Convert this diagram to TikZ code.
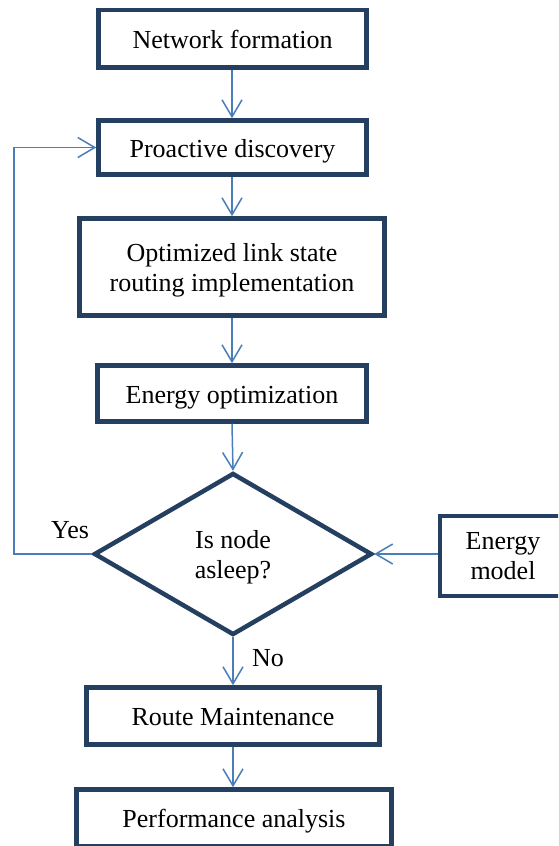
\documentclass[tikz,border=0pt]{standalone}
\usepackage{fontspec}
\setmainfont{Liberation Serif}
\usetikzlibrary{arrows.meta,shapes.geometric}
\definecolor{navy}{HTML}{243F60}
\definecolor{arrblue}{HTML}{4A7EBB}
\begin{document}
\begin{tikzpicture}[x=1pt,y=-1pt,
  box/.style={draw=navy,line width=4.5pt,fill=white,rectangle,inner sep=0pt,align=center,
    font=\fontsize{26}{30}\selectfont,text depth=0pt},
  onebox/.style={box,text height=19pt},
  dia/.style={draw=navy,line width=4.5pt,fill=white,diamond,inner sep=0pt,align=center,
    font=\fontsize{26}{30}\selectfont,text depth=0pt},
  lbl/.style={font=\fontsize{26}{30}\selectfont,inner sep=0pt},
  arr/.style={draw=arrblue,line width=1.5pt,-{Straight Barb[length=17pt,width=20pt]}}]
\clip (0,0) rectangle (558,846);
\fill[white] (0,0) rectangle (558,846);
\node[onebox,minimum width=268pt,minimum height=57.5pt] (net) at (232.5,38.75) {Network formation};
\node[onebox,minimum width=268pt,minimum height=54pt] (pro) at (232.5,147.5) {Proactive discovery};
\node[box,minimum width=305pt,minimum height=97pt] (opt) at (232,267) {Optimized link state\\routing implementation};
\node[onebox,minimum width=269pt,minimum height=56pt] (eno) at (232,393.5) {Energy optimization};
\node[dia,minimum width=278pt,minimum height=162pt] (isn) at (233,554) {Is node\\asleep?};
\node[box,minimum width=126pt,minimum height=80pt] (enm) at (503,556) {Energy\\model};
\node[onebox,minimum width=293pt,minimum height=57pt] (rou) at (233,716) {Route Maintenance};
\node[onebox,minimum width=315pt,minimum height=57pt] (per) at (234,818) {Performance analysis};
\node[lbl] (yes) at (70,530) {Yes};
\node[lbl] (no) at (268,658) {No};
\coordinate (loop) at (14,554);
\draw[arr] (net.south -| 232,0) -- (pro.north -| 232,0);
\draw[arr] (pro.south -| 232,0) -- (opt.north -| 232,0);
\draw[arr] (opt.south -| 232,0) -- (eno.north -| 232,0);
\draw[arr] (eno.south -| 232,0) -- (isn.north);
\draw[arr] (isn.south) -- (rou.north -| isn.south);
\draw[arr] (rou.south -| 233,0) -- (per.north -| 233,0);
\draw[arr] (enm.west |- isn.east) -- (isn.east);
\draw[arr] (isn.west) -- (loop) |- (pro.west);
\end{tikzpicture}
\end{document}
